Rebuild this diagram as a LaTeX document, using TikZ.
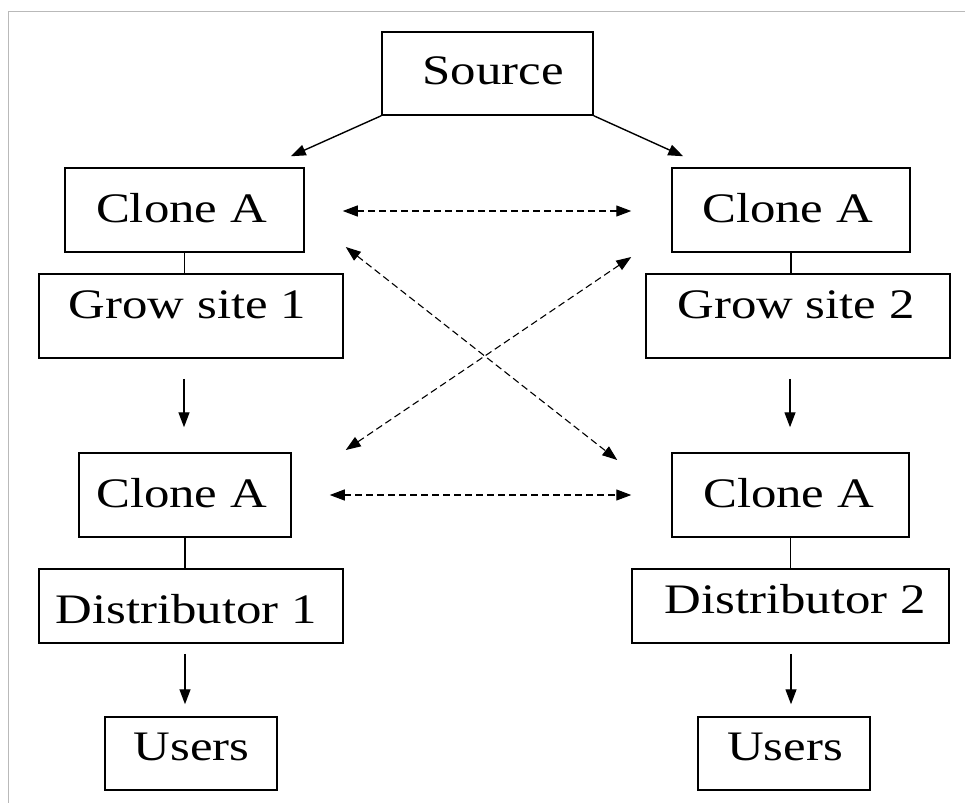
\documentclass[tikz,border=0pt]{standalone}
\usepackage{fontspec}
\setmainfont{Liberation Serif}
\usetikzlibrary{arrows.meta}
\newcommand\lbl[3]{\hspace*{#1}\raisebox{#2}{\scalebox{1.21}[1]{#3}}}
\tikzset{
  box/.style={draw, line width=1.5pt, inner sep=0pt, font=\fontsize{42}{50}\selectfont,
    text height=27.8pt, text depth=0pt},
  solidarrow/.style={line width=1.4pt, -{Triangle[length=15pt,width=11pt]}},
  dasharrow/.style={line width=1.1pt, dash pattern=on 7pt off 4pt,
    {Triangle[length=15pt,width=11pt]}-{Triangle[length=15pt,width=11pt]}},
  link/.style={line width=1.4pt}
}
\begin{document}
\begin{tikzpicture}[x=1pt,y=-1pt]
\useasboundingbox (0,0) rectangle (965,803);
\fill[white] (0,0) rectangle (965,803);
\draw[gray!55, line width=1pt] (965,11) -- (8,11) -- (8,803);

\node[box, minimum width=211pt, minimum height=83pt] (src) at (487.5,73.5) {\lbl{11pt}{3pt}{Source}};
\node[box, minimum width=239pt, minimum height=84pt] (ca1) at (184.5,210) {\lbl{-6pt}{1pt}{Clone A}};
\node[box, minimum width=304pt, minimum height=84pt] (gs1) at (191,316) {\lbl{-7pt}{11pt}{Grow site 1}};
\node[box, minimum width=238pt, minimum height=84pt] (ca2) at (791,210) {\lbl{-7pt}{1pt}{Clone A}};
\node[box, minimum width=304pt, minimum height=84pt] (gs2) at (798,316) {\lbl{-4pt}{11pt}{Grow site 2}};
\node[box, minimum width=212pt, minimum height=84pt] (cb1) at (185,495) {\lbl{-7pt}{1pt}{Clone A}};
\node[box, minimum width=237pt, minimum height=84pt] (cb2) at (790.5,495) {\lbl{-4pt}{1pt}{Clone A}};
\node[box, minimum width=304pt, minimum height=74pt] (d1) at (191,606) {\lbl{-10pt}{-4pt}{Distributor 1}};
\node[box, minimum width=317pt, minimum height=74pt] (d2) at (790.5,606) {\lbl{9pt}{6pt}{Distributor 2}};
\node[box, minimum width=172pt, minimum height=73pt] (u1) at (191,753.5) {\lbl{1pt}{6.5pt}{Users}};
\node[box, minimum width=172pt, minimum height=73pt] (u2) at (784,753.5) {\lbl{2pt}{6.5pt}{Users}};

% source arrows
\draw[solidarrow] (src.south west) -- ([shift={(-14,-11)}]ca1.north east);
\draw[solidarrow] (src.south east) -- ([shift={(12,-11)}]ca2.north west);

% clone to site links
\draw[link] (ca1.south) -- (ca1.south |- gs1.north);
\draw[link] (ca2.south) -- (ca2.south |- gs2.north);
\draw[link] (cb1.south) -- (cb1.south |- d1.north);
\draw[link] (cb2.south) -- (cb2.south |- d2.north);

% vertical arrows
\draw[solidarrow] ([shift={(-7,20)}]gs1.south) -- ([shift={(-1,-25)}]cb1.north);
\draw[solidarrow] ([shift={(-8,20)}]gs2.south) -- ([shift={(-0.5,-25)}]cb2.north);
\draw[solidarrow] ([shift={(-6,10)}]d1.south) -- ([shift={(-6,-12)}]u1.north);
\draw[solidarrow] ([shift={(0.5,10)}]d2.south) -- ([shift={(7,-12)}]u2.north);

% dashed exchanges
\draw[dasharrow] ([shift={(38,1)}]ca1.east) -- ([shift={(-40,1)}]ca2.west);
\draw[dasharrow] ([shift={(38,0)}]cb1.east) -- ([shift={(-40,0)}]cb2.west);
\draw[dasharrow] ([shift={(41,37)}]ca1.east) -- ([shift={(-54,-35)}]cb2.west);
\draw[dasharrow] ([shift={(-40,47)}]ca2.west) -- ([shift={(54,-45)}]cb1.east);
\end{tikzpicture}
\end{document}
